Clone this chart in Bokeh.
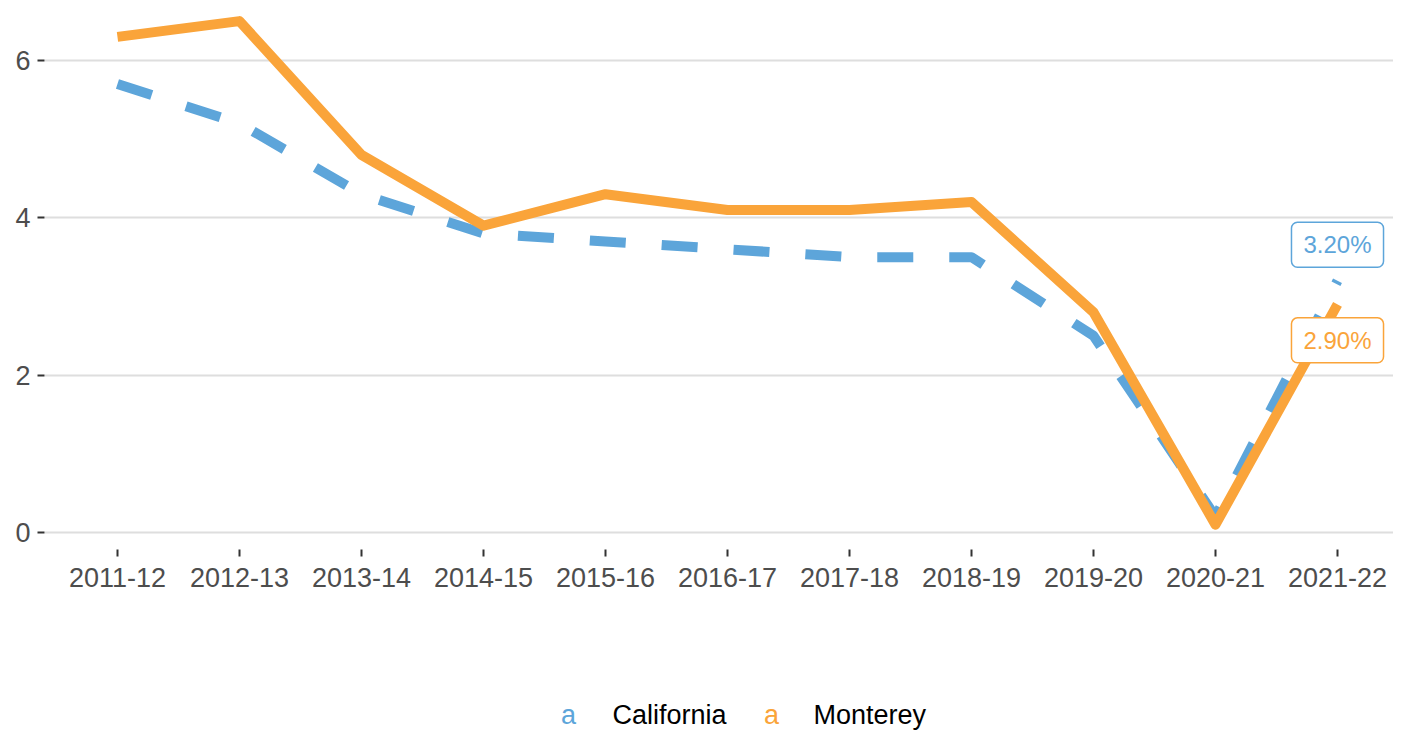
from bokeh.plotting import figure
from bokeh.layouts import column
from bokeh.models import ColumnDataSource, FixedTicker, Range1d
from bokeh.core.properties import value
from bokeh.embed import file_html
from bokeh.resources import INLINE

years = ["2011-12", "2012-13", "2013-14", "2014-15", "2015-16", "2016-17",
         "2017-18", "2018-19", "2019-20", "2020-21", "2021-22"]
california = [5.7, 5.2, 4.3, 3.8, 3.7, 3.6, 3.5, 3.5, 2.5, 0.2, 3.2]
monterey = [6.3, 6.5, 4.8, 3.9, 4.3, 4.1, 4.1, 4.2, 2.8, 0.1, 2.9]
series_names = ["California", "Monterey"]
y_ticks = [0, 2, 4, 6]

FONT = "Liberation Sans"
BLUE = "#5DA5DA"
ORANGE = "#FAA43A"
COLORS = [BLUE, ORANGE]

W = 1393
LEFT = 44
idx = list(range(len(years)))

p = figure(width=W, height=620, output_backend="svg", toolbar_location=None,
           x_range=(-0.598, 10.459),
           y_range=(-0.216, 6.762),
           min_border_left=LEFT, min_border_right=0, min_border_top=0, min_border_bottom=71)
p.outline_line_color = None
p.background_fill_color = "white"
p.border_fill_color = "white"

p.line(x=idx, y=california, line_color=BLUE, line_width=10, line_dash="36 36",
       line_join="round")
p.line(x=idx, y=monterey, line_color=ORANGE, line_width=10, line_join="round")

# end-point labels
lab_src = ColumnDataSource(dict(
    x=[idx[-1], idx[-1]],
    y=[california[-1], monterey[-1]],
    t=[f"{california[-1]:.2f}%", f"{monterey[-1]:.2f}%"],
    c=COLORS,
    off=[-36, 36],
))
p.text(x="x", y="y", text="t", source=lab_src, y_offset="off",
       text_color="c", text_font=value(FONT), text_font_size="24px",
       text_align="center", text_baseline="middle",
       background_fill_color="white", border_line_color="c", border_line_width=1.5,
       padding=(12, 9), border_radius=6)

# axes
p.xgrid.grid_line_color = None
p.ygrid.grid_line_color = "#DEDEDE"
p.ygrid.grid_line_width = 2
p.yaxis.ticker = FixedTicker(ticks=y_ticks)
p.xaxis.ticker = FixedTicker(ticks=idx)
p.xaxis.major_label_overrides = {i: y for i, y in zip(idx, years)}

for ax in (p.xaxis, p.yaxis):
    ax.axis_line_color = None
    ax.minor_tick_line_color = None
    ax.major_tick_line_color = "#333333"
    ax.major_tick_line_width = 2
    ax.major_tick_in = 0
    ax.major_tick_out = 7
    ax.major_label_text_font = FONT
    ax.major_label_text_font_size = "27px"
    ax.major_label_text_color = "#4D4D4D"
p.yaxis.major_label_standoff = 7
p.xaxis.major_label_standoff = 11

# legend strip below the chart (frame aligned with the chart's frame)
LH = 114
lf = figure(width=W, height=LH, output_backend="svg", toolbar_location=None,
            x_range=Range1d(LEFT, W), y_range=Range1d(LH, 0),
            x_axis_type=None, y_axis_type=None,
            min_border_left=LEFT, min_border_right=0, min_border_top=0, min_border_bottom=0)
lf.outline_line_color = None
lf.xgrid.grid_line_color = None
lf.ygrid.grid_line_color = None
key_x = [568, 771]
name_x = [612, 813]
leg_y = 94
lf.text(x=key_x, y=[leg_y] * 2, text=["a"] * 2, text_color=COLORS,
        text_font=value(FONT), text_font_size="27px",
        text_align="center", text_baseline="middle")
lf.text(x=name_x, y=[leg_y] * 2, text=series_names, text_color="#000000",
        text_font=value(FONT), text_font_size="27px",
        text_align="left", text_baseline="middle")

layout = column(p, lf, spacing=0)
open("out.html", "w").write(file_html(layout, INLINE))
